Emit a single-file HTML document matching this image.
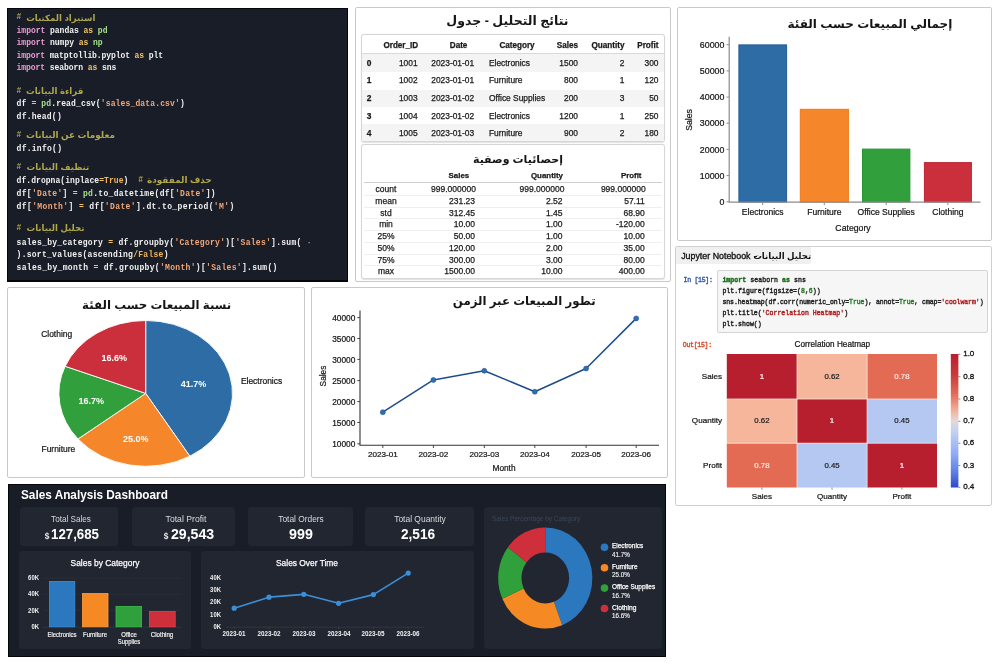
<!DOCTYPE html><html><head><meta charset="utf-8"><title>Sales Analysis</title><style>
*{margin:0;padding:0;box-sizing:border-box}
html,body{width:1000px;height:667px;overflow:hidden;background:#fff}
body{position:relative;font-family:"Liberation Sans",sans-serif;color:#111}
.abs{position:absolute}
.card{position:absolute;background:#fff;border:1px solid #c9c9c9;border-radius:2px}
.t{position:absolute;white-space:pre;line-height:1}
.c{transform:translate(-50%,-50%)}
.r{transform:translate(-100%,-50%)}
.l{transform:translate(0,-50%)}
.mono{font-family:"Liberation Mono",monospace}
svg{display:block}
</style></head><body><div id="w" style="position:absolute;left:0;top:0;width:1000px;height:667px;will-change:transform">
<div class="abs" style="left:7px;top:8px;width:341px;height:273.5px;background:#191d27;border:1px solid #05060a;border-bottom-width:2px"></div>
<div class="t mono" style="left:16.6px;top:17.4px;font-size:8.05px;font-weight:bold;color:#b0a84a;transform:translate(0,-50%) scaleY(1.13)">#</div>
<div class="t l" dir="rtl" style="left:26.2px;top:17.7px;font-size:8.6px;font-weight:bold;color:#b0a84a;font-family:'Liberation Sans','DejaVu Sans',sans-serif">استيراد المكتبات</div>
<div class="t mono" style="left:16.6px;top:31.3px;font-size:8.05px;font-weight:bold;letter-spacing:-0.05px;transform:translate(0,-50%) scaleY(1.13);transform-origin:0 50%"><span style="color:#f09bd6">import</span><span style="color:#f1f1f1"> pandas </span><span style="color:#f2c265">as</span><span style="color:#a4e08c"> pd</span></div>
<div class="t mono" style="left:16.6px;top:43.3px;font-size:8.05px;font-weight:bold;letter-spacing:-0.05px;transform:translate(0,-50%) scaleY(1.13);transform-origin:0 50%"><span style="color:#f09bd6">import</span><span style="color:#f1f1f1"> numpy </span><span style="color:#f2c265">as</span><span style="color:#a4e08c"> np</span></div>
<div class="t mono" style="left:16.6px;top:55.5px;font-size:8.05px;font-weight:bold;letter-spacing:-0.11px;transform:translate(0,-50%) scaleY(1.13);transform-origin:0 50%"><span style="color:#f09bd6">import</span><span style="color:#f1f1f1"> matptollib.pyplot </span><span style="color:#f2c265">as</span><span style="color:#f1f1f1"> plt</span></div>
<div class="t mono" style="left:16.6px;top:67.9px;font-size:8.05px;font-weight:bold;letter-spacing:-0.08px;transform:translate(0,-50%) scaleY(1.13);transform-origin:0 50%"><span style="color:#f09bd6">import</span><span style="color:#f1f1f1"> seaborn </span><span style="color:#f2c265">as</span><span style="color:#f1f1f1"> sns</span></div>
<div class="t mono" style="left:16.6px;top:90.6px;font-size:8.05px;font-weight:bold;color:#b0a84a;transform:translate(0,-50%) scaleY(1.13)">#</div>
<div class="t l" dir="rtl" style="left:26.0px;top:90.9px;font-size:8.6px;font-weight:bold;color:#b0a84a;font-family:'Liberation Sans','DejaVu Sans',sans-serif">قراءة البيانات</div>
<div class="t mono" style="left:16.6px;top:104.3px;font-size:8.05px;font-weight:bold;letter-spacing:0.12px;transform:translate(0,-50%) scaleY(1.13);transform-origin:0 50%"><span style="color:#f1f1f1">df </span><span style="color:#f2c265">=</span><span style="color:#a4e08c"> pd</span><span style="color:#f1f1f1">.read_csv(</span><span style="color:#f2a677">'sales_data.csv'</span><span style="color:#f1f1f1">)</span></div>
<div class="t mono" style="left:16.6px;top:116.7px;font-size:8.05px;font-weight:bold;letter-spacing:0.21px;transform:translate(0,-50%) scaleY(1.13);transform-origin:0 50%"><span style="color:#f1f1f1">df.head()</span></div>
<div class="t mono" style="left:16.6px;top:135.2px;font-size:8.05px;font-weight:bold;color:#b0a84a;transform:translate(0,-50%) scaleY(1.13)">#</div>
<div class="t l" dir="rtl" style="left:26.0px;top:135.4px;font-size:8.9px;font-weight:bold;color:#b0a84a;font-family:'Liberation Sans','DejaVu Sans',sans-serif">معلومات عن البيانات</div>
<div class="t mono" style="left:16.6px;top:148.7px;font-size:8.05px;font-weight:bold;letter-spacing:0.24px;transform:translate(0,-50%) scaleY(1.13);transform-origin:0 50%"><span style="color:#f1f1f1">df.info()</span></div>
<div class="t mono" style="left:16.6px;top:166.8px;font-size:8.05px;font-weight:bold;color:#b0a84a;transform:translate(0,-50%) scaleY(1.13)">#</div>
<div class="t l" dir="rtl" style="left:26.5px;top:167.1px;font-size:8.6px;font-weight:bold;color:#b0a84a;font-family:'Liberation Sans','DejaVu Sans',sans-serif">تنظيف البيانات</div>
<div class="t mono" style="left:16.6px;top:180.7px;font-size:8.05px;font-weight:bold;letter-spacing:0.03px;transform:translate(0,-50%) scaleY(1.13);transform-origin:0 50%"><span style="color:#f1f1f1">df.dropna(inplace</span><span style="color:#f2c265">=</span><span style="color:#f2b45a">True</span><span style="color:#f1f1f1">)</span></div>
<div class="t mono" style="left:138.3px;top:179.8px;font-size:8.05px;font-weight:bold;color:#b0a84a;transform:translate(0,-50%) scaleY(1.13)">#</div>
<div class="t l" dir="rtl" style="left:147.0px;top:180.1px;font-size:8.9px;font-weight:bold;color:#b0a84a;font-family:'Liberation Sans','DejaVu Sans',sans-serif">حذف المفقودة</div>
<div class="t mono" style="left:16.6px;top:193.9px;font-size:8.05px;font-weight:bold;letter-spacing:0.28px;transform:translate(0,-50%) scaleY(1.13);transform-origin:0 50%"><span style="color:#f1f1f1">df[</span><span style="color:#f2a677">'Date'</span><span style="color:#f1f1f1">] </span><span style="color:#f2c265">=</span><span style="color:#a4e08c"> pd</span><span style="color:#f1f1f1">.to_datetime(df[</span><span style="color:#f2a677">'Date'</span><span style="color:#f1f1f1">])</span></div>
<div class="t mono" style="left:16.6px;top:206.9px;font-size:8.05px;font-weight:bold;letter-spacing:0.36px;transform:translate(0,-50%) scaleY(1.13);transform-origin:0 50%"><span style="color:#f1f1f1">df[</span><span style="color:#f2a677">'Month'</span><span style="color:#f1f1f1">] </span><span style="color:#f2c265">=</span><span style="color:#f1f1f1"> df[</span><span style="color:#f2a677">'Date'</span><span style="color:#f1f1f1">].dt.to_period(</span><span style="color:#f2a677">'M'</span><span style="color:#f1f1f1">)</span></div>
<div class="t mono" style="left:16.6px;top:227.7px;font-size:8.05px;font-weight:bold;color:#b0a84a;transform:translate(0,-50%) scaleY(1.13)">#</div>
<div class="t l" dir="rtl" style="left:26.5px;top:228.0px;font-size:8.6px;font-weight:bold;color:#b0a84a;font-family:'Liberation Sans','DejaVu Sans',sans-serif">تحليل البيانات</div>
<div class="t mono" style="left:16.6px;top:242.9px;font-size:8.05px;font-weight:bold;letter-spacing:0.26px;transform:translate(0,-50%) scaleY(1.13);transform-origin:0 50%"><span style="color:#f1f1f1">sales_by_category </span><span style="color:#f2c265">=</span><span style="color:#f1f1f1"> df.groupby(</span><span style="color:#f2a677">'Category'</span><span style="color:#f1f1f1">)[</span><span style="color:#f2a677">'Sales'</span><span style="color:#f1f1f1">].sum( </span><span style="color:#9aa0aa">·</span></div>
<div class="t mono" style="left:16.6px;top:255.2px;font-size:8.05px;font-weight:bold;letter-spacing:0.24px;transform:translate(0,-50%) scaleY(1.13);transform-origin:0 50%"><span style="color:#f1f1f1">).sort_values(ascending</span><span style="color:#f2c265">/</span><span style="color:#f2b45a">False</span><span style="color:#f1f1f1">)</span></div>
<div class="t mono" style="left:16.6px;top:267.8px;font-size:8.05px;font-weight:bold;letter-spacing:0.29px;transform:translate(0,-50%) scaleY(1.13);transform-origin:0 50%"><span style="color:#f1f1f1">sales_by_month </span><span style="color:#f2c265">=</span><span style="color:#f1f1f1"> df.groupby(</span><span style="color:#f2a677">'Month'</span><span style="color:#f1f1f1">)[</span><span style="color:#f2a677">'Sales'</span><span style="color:#f1f1f1">].sum()</span></div>
<div class="card" style="left:355px;top:7px;width:316px;height:275px"></div>
<div class="t c" dir="rtl" style="left:507.4px;top:21.2px;font-size:12.5px;font-weight:bold;color:#151515;font-family:'Liberation Sans','DejaVu Sans',sans-serif">نتائج التحليل - جدول</div>
<div class="card" style="left:361px;top:34px;width:304px;height:108px;border-color:#d6d6d6;border-radius:3px;box-shadow:0 0.5px 1px rgba(0,0,0,.12)"></div>
<div class="abs" style="left:362px;top:53px;width:302px;height:1px;background:#d9d9d9"></div>
<div class="abs" style="left:362px;top:53.5px;width:302px;height:18.2px;background:#f4f4f4"></div>
<div class="abs" style="left:362px;top:89.5px;width:302px;height:17.2px;background:#f4f4f4"></div>
<div class="abs" style="left:362px;top:124.0px;width:302px;height:17.0px;background:#f4f4f4"></div>
<div class="t r" style="left:418.2px;top:45.9px;font-size:8.15px;color:#1a1a1a;font-weight:bold;-webkit-text-stroke:0.25px #1a1a1a;">Order_ID</div>
<div class="t c" style="left:458.6px;top:45.9px;font-size:8.15px;color:#1a1a1a;font-weight:bold;-webkit-text-stroke:0.25px #1a1a1a;">Date</div>
<div class="t c" style="left:517.0px;top:45.9px;font-size:8.15px;color:#1a1a1a;font-weight:bold;-webkit-text-stroke:0.25px #1a1a1a;">Category</div>
<div class="t r" style="left:578.0px;top:45.9px;font-size:8.15px;color:#1a1a1a;font-weight:bold;-webkit-text-stroke:0.25px #1a1a1a;">Sales</div>
<div class="t r" style="left:624.5px;top:45.9px;font-size:8.15px;color:#1a1a1a;font-weight:bold;-webkit-text-stroke:0.25px #1a1a1a;">Quantity</div>
<div class="t r" style="left:658.5px;top:45.9px;font-size:8.15px;color:#1a1a1a;font-weight:bold;-webkit-text-stroke:0.25px #1a1a1a;">Profit</div>
<div class="t l" style="left:366.8px;top:62.7px;font-size:8.40px;color:#1a1a1a;font-weight:bold;-webkit-text-stroke:0.25px #1a1a1a;">0</div>
<div class="t r" style="left:417.6px;top:62.7px;font-size:8.40px;color:#1a1a1a;-webkit-text-stroke:0.25px #1a1a1a;">1001</div>
<div class="t c" style="left:452.7px;top:62.7px;font-size:8.40px;color:#1a1a1a;-webkit-text-stroke:0.25px #1a1a1a;">2023-01-01</div>
<div class="t l" style="left:489.0px;top:62.7px;font-size:8.40px;color:#1a1a1a;-webkit-text-stroke:0.25px #1a1a1a;">Electronics</div>
<div class="t r" style="left:578.0px;top:62.7px;font-size:8.40px;color:#1a1a1a;-webkit-text-stroke:0.25px #1a1a1a;">1500</div>
<div class="t r" style="left:624.5px;top:62.7px;font-size:8.40px;color:#1a1a1a;-webkit-text-stroke:0.25px #1a1a1a;">2</div>
<div class="t r" style="left:658.5px;top:62.7px;font-size:8.40px;color:#1a1a1a;-webkit-text-stroke:0.25px #1a1a1a;">300</div>
<div class="t l" style="left:366.8px;top:80.4px;font-size:8.40px;color:#1a1a1a;font-weight:bold;-webkit-text-stroke:0.25px #1a1a1a;">1</div>
<div class="t r" style="left:417.6px;top:80.4px;font-size:8.40px;color:#1a1a1a;-webkit-text-stroke:0.25px #1a1a1a;">1002</div>
<div class="t c" style="left:452.7px;top:80.4px;font-size:8.40px;color:#1a1a1a;-webkit-text-stroke:0.25px #1a1a1a;">2023-01-01</div>
<div class="t l" style="left:489.0px;top:80.4px;font-size:8.40px;color:#1a1a1a;-webkit-text-stroke:0.25px #1a1a1a;">Furniture</div>
<div class="t r" style="left:578.0px;top:80.4px;font-size:8.40px;color:#1a1a1a;-webkit-text-stroke:0.25px #1a1a1a;">800</div>
<div class="t r" style="left:624.5px;top:80.4px;font-size:8.40px;color:#1a1a1a;-webkit-text-stroke:0.25px #1a1a1a;">1</div>
<div class="t r" style="left:658.5px;top:80.4px;font-size:8.40px;color:#1a1a1a;-webkit-text-stroke:0.25px #1a1a1a;">120</div>
<div class="t l" style="left:366.8px;top:98.2px;font-size:8.40px;color:#1a1a1a;font-weight:bold;-webkit-text-stroke:0.25px #1a1a1a;">2</div>
<div class="t r" style="left:417.6px;top:98.2px;font-size:8.40px;color:#1a1a1a;-webkit-text-stroke:0.25px #1a1a1a;">1003</div>
<div class="t c" style="left:452.7px;top:98.2px;font-size:8.40px;color:#1a1a1a;-webkit-text-stroke:0.25px #1a1a1a;">2023-01-02</div>
<div class="t l" style="left:489.0px;top:98.2px;font-size:8.40px;color:#1a1a1a;-webkit-text-stroke:0.25px #1a1a1a;">Office Supplies</div>
<div class="t r" style="left:578.0px;top:98.2px;font-size:8.40px;color:#1a1a1a;-webkit-text-stroke:0.25px #1a1a1a;">200</div>
<div class="t r" style="left:624.5px;top:98.2px;font-size:8.40px;color:#1a1a1a;-webkit-text-stroke:0.25px #1a1a1a;">3</div>
<div class="t r" style="left:658.5px;top:98.2px;font-size:8.40px;color:#1a1a1a;-webkit-text-stroke:0.25px #1a1a1a;">50</div>
<div class="t l" style="left:366.8px;top:115.8px;font-size:8.40px;color:#1a1a1a;font-weight:bold;-webkit-text-stroke:0.25px #1a1a1a;">3</div>
<div class="t r" style="left:417.6px;top:115.8px;font-size:8.40px;color:#1a1a1a;-webkit-text-stroke:0.25px #1a1a1a;">1004</div>
<div class="t c" style="left:452.7px;top:115.8px;font-size:8.40px;color:#1a1a1a;-webkit-text-stroke:0.25px #1a1a1a;">2023-01-02</div>
<div class="t l" style="left:489.0px;top:115.8px;font-size:8.40px;color:#1a1a1a;-webkit-text-stroke:0.25px #1a1a1a;">Electronics</div>
<div class="t r" style="left:578.0px;top:115.8px;font-size:8.40px;color:#1a1a1a;-webkit-text-stroke:0.25px #1a1a1a;">1200</div>
<div class="t r" style="left:624.5px;top:115.8px;font-size:8.40px;color:#1a1a1a;-webkit-text-stroke:0.25px #1a1a1a;">1</div>
<div class="t r" style="left:658.5px;top:115.8px;font-size:8.40px;color:#1a1a1a;-webkit-text-stroke:0.25px #1a1a1a;">250</div>
<div class="t l" style="left:366.8px;top:133.4px;font-size:8.40px;color:#1a1a1a;font-weight:bold;-webkit-text-stroke:0.25px #1a1a1a;">4</div>
<div class="t r" style="left:417.6px;top:133.4px;font-size:8.40px;color:#1a1a1a;-webkit-text-stroke:0.25px #1a1a1a;">1005</div>
<div class="t c" style="left:452.7px;top:133.4px;font-size:8.40px;color:#1a1a1a;-webkit-text-stroke:0.25px #1a1a1a;">2023-01-03</div>
<div class="t l" style="left:489.0px;top:133.4px;font-size:8.40px;color:#1a1a1a;-webkit-text-stroke:0.25px #1a1a1a;">Furniture</div>
<div class="t r" style="left:578.0px;top:133.4px;font-size:8.40px;color:#1a1a1a;-webkit-text-stroke:0.25px #1a1a1a;">900</div>
<div class="t r" style="left:624.5px;top:133.4px;font-size:8.40px;color:#1a1a1a;-webkit-text-stroke:0.25px #1a1a1a;">2</div>
<div class="t r" style="left:658.5px;top:133.4px;font-size:8.40px;color:#1a1a1a;-webkit-text-stroke:0.25px #1a1a1a;">180</div>
<div class="card" style="left:361px;top:144px;width:304px;height:134.5px;border-color:#d6d6d6;border-radius:3px;box-shadow:0 0.5px 1px rgba(0,0,0,.12)"></div>
<div class="t c" dir="rtl" style="left:518.0px;top:159.2px;font-size:11px;font-weight:bold;color:#151515;font-family:'Liberation Sans','DejaVu Sans',sans-serif">إحصائيات وصفية</div>
<div class="abs" style="left:364px;top:182px;width:298px;height:1px;background:#cfcfcf"></div>
<div class="t r" style="left:469.2px;top:176.2px;font-size:7.90px;color:#1a1a1a;font-weight:bold;-webkit-text-stroke:0.25px #1a1a1a;">Sales</div>
<div class="t r" style="left:563.0px;top:176.2px;font-size:7.90px;color:#1a1a1a;font-weight:bold;-webkit-text-stroke:0.25px #1a1a1a;">Quantity</div>
<div class="t r" style="left:641.5px;top:176.2px;font-size:7.90px;color:#1a1a1a;font-weight:bold;-webkit-text-stroke:0.25px #1a1a1a;">Profit</div>
<div class="abs" style="left:364px;top:194.9px;width:298px;height:1px;background:#efefef"></div>
<div class="abs" style="left:364px;top:206.6px;width:298px;height:1px;background:#efefef"></div>
<div class="abs" style="left:364px;top:218.3px;width:298px;height:1px;background:#efefef"></div>
<div class="abs" style="left:364px;top:230.0px;width:298px;height:1px;background:#efefef"></div>
<div class="abs" style="left:364px;top:241.8px;width:298px;height:1px;background:#efefef"></div>
<div class="abs" style="left:364px;top:253.6px;width:298px;height:1px;background:#efefef"></div>
<div class="abs" style="left:364px;top:265.3px;width:298px;height:1px;background:#efefef"></div>
<div class="t c" style="left:386.0px;top:189.2px;font-size:8.50px;color:#1a1a1a;-webkit-text-stroke:0.25px #1a1a1a;">count</div>
<div class="t r" style="left:476.0px;top:189.2px;font-size:8.50px;color:#1a1a1a;-webkit-text-stroke:0.25px #1a1a1a;">999.000000</div>
<div class="t r" style="left:564.5px;top:189.2px;font-size:8.50px;color:#1a1a1a;-webkit-text-stroke:0.25px #1a1a1a;">999.000000</div>
<div class="t r" style="left:645.8px;top:189.2px;font-size:8.50px;color:#1a1a1a;-webkit-text-stroke:0.25px #1a1a1a;">999.000000</div>
<div class="t c" style="left:386.0px;top:200.8px;font-size:8.50px;color:#1a1a1a;-webkit-text-stroke:0.25px #1a1a1a;">mean</div>
<div class="t r" style="left:475.0px;top:200.8px;font-size:8.50px;color:#1a1a1a;-webkit-text-stroke:0.25px #1a1a1a;">231.23</div>
<div class="t r" style="left:562.5px;top:200.8px;font-size:8.50px;color:#1a1a1a;-webkit-text-stroke:0.25px #1a1a1a;">2.52</div>
<div class="t r" style="left:644.8px;top:200.8px;font-size:8.50px;color:#1a1a1a;-webkit-text-stroke:0.25px #1a1a1a;">57.11</div>
<div class="t c" style="left:386.0px;top:212.5px;font-size:8.50px;color:#1a1a1a;-webkit-text-stroke:0.25px #1a1a1a;">std</div>
<div class="t r" style="left:475.0px;top:212.5px;font-size:8.50px;color:#1a1a1a;-webkit-text-stroke:0.25px #1a1a1a;">312.45</div>
<div class="t r" style="left:562.5px;top:212.5px;font-size:8.50px;color:#1a1a1a;-webkit-text-stroke:0.25px #1a1a1a;">1.45</div>
<div class="t r" style="left:644.8px;top:212.5px;font-size:8.50px;color:#1a1a1a;-webkit-text-stroke:0.25px #1a1a1a;">68.90</div>
<div class="t c" style="left:386.0px;top:224.1px;font-size:8.50px;color:#1a1a1a;-webkit-text-stroke:0.25px #1a1a1a;">min</div>
<div class="t r" style="left:475.0px;top:224.1px;font-size:8.50px;color:#1a1a1a;-webkit-text-stroke:0.25px #1a1a1a;">10.00</div>
<div class="t r" style="left:562.5px;top:224.1px;font-size:8.50px;color:#1a1a1a;-webkit-text-stroke:0.25px #1a1a1a;">1.00</div>
<div class="t r" style="left:644.8px;top:224.1px;font-size:8.50px;color:#1a1a1a;-webkit-text-stroke:0.25px #1a1a1a;">-120.00</div>
<div class="t c" style="left:386.0px;top:235.9px;font-size:8.50px;color:#1a1a1a;-webkit-text-stroke:0.25px #1a1a1a;">25%</div>
<div class="t r" style="left:475.0px;top:235.9px;font-size:8.50px;color:#1a1a1a;-webkit-text-stroke:0.25px #1a1a1a;">50.00</div>
<div class="t r" style="left:562.5px;top:235.9px;font-size:8.50px;color:#1a1a1a;-webkit-text-stroke:0.25px #1a1a1a;">1.00</div>
<div class="t r" style="left:644.8px;top:235.9px;font-size:8.50px;color:#1a1a1a;-webkit-text-stroke:0.25px #1a1a1a;">10.00</div>
<div class="t c" style="left:386.0px;top:247.7px;font-size:8.50px;color:#1a1a1a;-webkit-text-stroke:0.25px #1a1a1a;">50%</div>
<div class="t r" style="left:475.0px;top:247.7px;font-size:8.50px;color:#1a1a1a;-webkit-text-stroke:0.25px #1a1a1a;">120.00</div>
<div class="t r" style="left:562.5px;top:247.7px;font-size:8.50px;color:#1a1a1a;-webkit-text-stroke:0.25px #1a1a1a;">2.00</div>
<div class="t r" style="left:644.8px;top:247.7px;font-size:8.50px;color:#1a1a1a;-webkit-text-stroke:0.25px #1a1a1a;">35.00</div>
<div class="t c" style="left:386.0px;top:259.6px;font-size:8.50px;color:#1a1a1a;-webkit-text-stroke:0.25px #1a1a1a;">75%</div>
<div class="t r" style="left:475.0px;top:259.6px;font-size:8.50px;color:#1a1a1a;-webkit-text-stroke:0.25px #1a1a1a;">300.00</div>
<div class="t r" style="left:562.5px;top:259.6px;font-size:8.50px;color:#1a1a1a;-webkit-text-stroke:0.25px #1a1a1a;">3.00</div>
<div class="t r" style="left:644.8px;top:259.6px;font-size:8.50px;color:#1a1a1a;-webkit-text-stroke:0.25px #1a1a1a;">80.00</div>
<div class="t c" style="left:386.0px;top:271.1px;font-size:8.50px;color:#1a1a1a;-webkit-text-stroke:0.25px #1a1a1a;">max</div>
<div class="t r" style="left:475.0px;top:271.1px;font-size:8.50px;color:#1a1a1a;-webkit-text-stroke:0.25px #1a1a1a;">1500.00</div>
<div class="t r" style="left:562.5px;top:271.1px;font-size:8.50px;color:#1a1a1a;-webkit-text-stroke:0.25px #1a1a1a;">10.00</div>
<div class="t r" style="left:644.8px;top:271.1px;font-size:8.50px;color:#1a1a1a;-webkit-text-stroke:0.25px #1a1a1a;">400.00</div>
<div class="card" style="left:677px;top:7px;width:315px;height:234px"></div>
<div class="t c" dir="rtl" style="left:869.9px;top:24.0px;font-size:12px;font-weight:bold;color:#151515;font-family:'Liberation Sans','DejaVu Sans',sans-serif">إجمالي المبيعات حسب الفئة</div>
<svg class="abs" style="left:0;top:0" width="1000" height="260" viewBox="0 0 1000 260"><rect x="738.9" y="44.9" width="47.7" height="157.1" fill="#2d6ca5" stroke="#235c94" stroke-width="1"/><rect x="800.3" y="109.3" width="48.1" height="92.7" fill="#f5862a" stroke="#ee7a1c" stroke-width="1"/><rect x="862.5" y="149.1" width="47.4" height="52.9" fill="#31a03c" stroke="#2a9334" stroke-width="1"/><rect x="924.4" y="162.6" width="47.0" height="39.4" fill="#cb2f3b" stroke="#bd2733" stroke-width="1"/><path d="M729.2 36.8V202.6M728.6 202.2H980.5" stroke="#8c8c8c" stroke-width="1.2" fill="none"/><path d="M726.5 44.7H729" stroke="#8c8c8c" stroke-width="1"/><path d="M726.5 70.9H729" stroke="#8c8c8c" stroke-width="1"/><path d="M726.5 97.1H729" stroke="#8c8c8c" stroke-width="1"/><path d="M726.5 123.2H729" stroke="#8c8c8c" stroke-width="1"/><path d="M726.5 149.4H729" stroke="#8c8c8c" stroke-width="1"/><path d="M726.5 175.6H729" stroke="#8c8c8c" stroke-width="1"/><path d="M726.5 201.8H729" stroke="#8c8c8c" stroke-width="1"/><path d="M762.7 202.5V205" stroke="#8c8c8c" stroke-width="1"/><path d="M824.3 202.5V205" stroke="#8c8c8c" stroke-width="1"/><path d="M886.2 202.5V205" stroke="#8c8c8c" stroke-width="1"/><path d="M947.9 202.5V205" stroke="#8c8c8c" stroke-width="1"/></svg>
<div class="t r" style="left:724.4px;top:44.9px;font-size:8.85px;color:#151515;-webkit-text-stroke:0.22px #151515;">60000</div>
<div class="t r" style="left:724.4px;top:71.1px;font-size:8.85px;color:#151515;-webkit-text-stroke:0.22px #151515;">50000</div>
<div class="t r" style="left:724.4px;top:97.3px;font-size:8.85px;color:#151515;-webkit-text-stroke:0.22px #151515;">40000</div>
<div class="t r" style="left:724.4px;top:123.4px;font-size:8.85px;color:#151515;-webkit-text-stroke:0.22px #151515;">30000</div>
<div class="t r" style="left:724.4px;top:149.6px;font-size:8.85px;color:#151515;-webkit-text-stroke:0.22px #151515;">20000</div>
<div class="t r" style="left:724.4px;top:175.8px;font-size:8.85px;color:#151515;-webkit-text-stroke:0.22px #151515;">10000</div>
<div class="t r" style="left:724.4px;top:202.0px;font-size:8.85px;color:#151515;-webkit-text-stroke:0.22px #151515;">0</div>
<div class="t c" style="left:762.7px;top:212.3px;font-size:8.55px;color:#151515;-webkit-text-stroke:0.22px #151515;">Electronics</div>
<div class="t c" style="left:824.3px;top:212.3px;font-size:8.55px;color:#151515;-webkit-text-stroke:0.22px #151515;">Furniture</div>
<div class="t c" style="left:886.2px;top:212.3px;font-size:8.55px;color:#151515;-webkit-text-stroke:0.22px #151515;">Office Supplies</div>
<div class="t c" style="left:947.9px;top:212.3px;font-size:8.55px;color:#151515;-webkit-text-stroke:0.22px #151515;">Clothing</div>
<div class="t c" style="left:853.0px;top:228.0px;font-size:8.70px;color:#151515;-webkit-text-stroke:0.22px #151515;">Category</div>
<div class="t" style="left:688.7px;top:120px;font-size:8.7px;color:#151515;-webkit-text-stroke:0.22px #151515;transform:translate(-50%,-50%) rotate(-90deg)">Sales</div>
<div class="card" style="left:675px;top:246px;width:317px;height:260px;border-color:#cfcfcf"></div>
<div class="abs" style="left:676px;top:247px;width:135px;height:17.2px;background:#f0f0f0;border-radius:1px 2px 2px 0"></div>
<div class="t l" style="left:681.2px;top:256.3px;font-size:8.85px;color:#151515;-webkit-text-stroke:0.35px #151515;">Jupyter Notebook</div>
<div class="abs" style="left:753.5px;top:256.1px;width:3.6px;height:1.1px;background:#151515"></div>
<div class="t c" dir="rtl" style="left:782.2px;top:256.3px;font-size:8.6px;font-weight:bold;color:#151515;font-family:'Liberation Sans','DejaVu Sans',sans-serif">تحليل البيانات</div>
<div class="abs" style="left:717px;top:270.4px;width:270.5px;height:62.2px;background:#f6f6f6;border:1px solid #d4d4d4;border-radius:2px"></div>
<div class="t mono" style="left:683.6px;top:280.8px;font-size:6.55px;font-weight:normal;color:#3b5aa6;letter-spacing:-0.30px;transform:translate(0,-50%) scaleY(1.14);transform-origin:0 50%;-webkit-text-stroke:0.38px">In [15]:</div>
<div class="t mono" style="left:722.4px;top:280.8px;font-size:6.55px;font-weight:normal;color:#222;letter-spacing:0.05px;transform:translate(0,-50%) scaleY(1.14);transform-origin:0 50%;-webkit-text-stroke:0.38px"><span style="color:#186c18;font-weight:bold;">import</span> seaborn <span style="color:#186c18;font-weight:bold;">as</span> sns</div>
<div class="t mono" style="left:722.4px;top:291.8px;font-size:6.55px;font-weight:normal;color:#222;letter-spacing:0.00px;transform:translate(0,-50%) scaleY(1.14);transform-origin:0 50%;-webkit-text-stroke:0.38px">plt.figure(figsize=(<span style="color:#1f7a1f;">8</span>,<span style="color:#1f7a1f;">6</span>))</div>
<div class="t mono" style="left:722.4px;top:302.8px;font-size:6.55px;font-weight:normal;color:#222;letter-spacing:-0.09px;transform:translate(0,-50%) scaleY(1.14);transform-origin:0 50%;-webkit-text-stroke:0.38px">sns.heatmap(df.corr(numeric_only=<span style="color:#1f7a1f;">True</span>), annot=<span style="color:#1f7a1f;">True</span>, cmap=<span style="color:#ae1d1d;">'coolwarm'</span>)</div>
<div class="t mono" style="left:722.4px;top:313.8px;font-size:6.55px;font-weight:normal;color:#222;letter-spacing:0.00px;transform:translate(0,-50%) scaleY(1.14);transform-origin:0 50%;-webkit-text-stroke:0.38px">plt.title(<span style="color:#ae1d1d;">'Correlation Heatmap'</span>)</div>
<div class="t mono" style="left:722.4px;top:324.8px;font-size:6.55px;font-weight:normal;color:#222;letter-spacing:0.00px;transform:translate(0,-50%) scaleY(1.14);transform-origin:0 50%;-webkit-text-stroke:0.38px">plt.show()</div>
<div class="t mono" style="left:682.8px;top:345.8px;font-size:6.55px;font-weight:normal;color:#d8512f;letter-spacing:-0.30px;transform:translate(0,-50%) scaleY(1.14);transform-origin:0 50%;-webkit-text-stroke:0.38px">Out[15]:</div>
<div class="t c" style="left:832.4px;top:344.8px;font-size:8.20px;color:#151515;-webkit-text-stroke:0.22px #151515;">Correlation Heatmap</div>
<svg class="abs" style="left:0;top:340px" width="1000" height="160" viewBox="0 340 1000 160"><defs><linearGradient id="cw" x1="0" y1="0" x2="0" y2="1"><stop offset="0" stop-color="#b71f2e"/><stop offset="0.15" stop-color="#c9393a"/><stop offset="0.3" stop-color="#e36c58"/><stop offset="0.42" stop-color="#f3ae98"/><stop offset="0.5" stop-color="#e3d9da"/><stop offset="0.58" stop-color="#c3d1f1"/><stop offset="0.75" stop-color="#8eabf5"/><stop offset="0.9" stop-color="#567ae2"/><stop offset="1" stop-color="#2c48ca"/></linearGradient></defs><rect x="726.8" y="354.0" width="70.2" height="45.0" fill="#b71f2e"/><rect x="797.0" y="354.0" width="70.1" height="45.0" fill="#f5b69b"/><rect x="867.1" y="354.0" width="69.9" height="45.0" fill="#e36b54"/><rect x="726.8" y="399.0" width="70.2" height="44.2" fill="#f5b69b"/><rect x="797.0" y="399.0" width="70.1" height="44.2" fill="#b71f2e"/><rect x="867.1" y="399.0" width="69.9" height="44.2" fill="#b4c8f1"/><rect x="726.8" y="443.2" width="70.2" height="44.3" fill="#e36b54"/><rect x="797.0" y="443.2" width="70.1" height="44.3" fill="#b4c8f1"/><rect x="867.1" y="443.2" width="69.9" height="44.3" fill="#b71f2e"/><path d="M797 354V487.5M867.1 354V487.5M726.8 399H937M726.8 443.2H937" stroke="#f7e3da" stroke-width="0.8" fill="none"/><rect x="950.8" y="354" width="7.6" height="133.5" fill="url(#cw)"/><path d="M958.4 354.3H960.4" stroke="#555" stroke-width="0.7"/><path d="M958.4 376.7H960.4" stroke="#555" stroke-width="0.7"/><path d="M958.4 399.0H960.4" stroke="#555" stroke-width="0.7"/><path d="M958.4 421.3H960.4" stroke="#555" stroke-width="0.7"/><path d="M958.4 443.2H960.4" stroke="#555" stroke-width="0.7"/><path d="M958.4 465.5H960.4" stroke="#555" stroke-width="0.7"/><path d="M958.4 487.3H960.4" stroke="#555" stroke-width="0.7"/><path d="M761.9 487.5V489.5" stroke="#555" stroke-width="0.7"/><path d="M832.0 487.5V489.5" stroke="#555" stroke-width="0.7"/><path d="M901.9 487.5V489.5" stroke="#555" stroke-width="0.7"/></svg>
<div class="t c" style="left:761.9px;top:376.7px;font-size:7.80px;color:#fff;-webkit-text-stroke:0.2px;">1</div>
<div class="t c" style="left:832.0px;top:376.7px;font-size:7.80px;color:#1a1a1a;-webkit-text-stroke:0.2px;">0.62</div>
<div class="t c" style="left:901.9px;top:376.7px;font-size:7.80px;color:#fbe9e2;-webkit-text-stroke:0.2px;">0.78</div>
<div class="t c" style="left:761.9px;top:421.3px;font-size:7.80px;color:#1a1a1a;-webkit-text-stroke:0.2px;">0.62</div>
<div class="t c" style="left:832.0px;top:421.3px;font-size:7.80px;color:#fff;-webkit-text-stroke:0.2px;">1</div>
<div class="t c" style="left:901.9px;top:421.3px;font-size:7.80px;color:#1a1a1a;-webkit-text-stroke:0.2px;">0.45</div>
<div class="t c" style="left:761.9px;top:465.5px;font-size:7.80px;color:#fbe9e2;-webkit-text-stroke:0.2px;">0.78</div>
<div class="t c" style="left:832.0px;top:465.5px;font-size:7.80px;color:#1a1a1a;-webkit-text-stroke:0.2px;">0.45</div>
<div class="t c" style="left:901.9px;top:465.5px;font-size:7.80px;color:#fff;-webkit-text-stroke:0.2px;">1</div>
<div class="t r" style="left:722.0px;top:376.7px;font-size:8.10px;color:#151515;-webkit-text-stroke:0.22px #151515;">Sales</div>
<div class="t r" style="left:722.0px;top:421.3px;font-size:8.10px;color:#151515;-webkit-text-stroke:0.22px #151515;">Quantity</div>
<div class="t r" style="left:722.0px;top:465.5px;font-size:8.10px;color:#151515;-webkit-text-stroke:0.22px #151515;">Profit</div>
<div class="t c" style="left:761.9px;top:496.8px;font-size:8.10px;color:#151515;-webkit-text-stroke:0.22px #151515;">Sales</div>
<div class="t c" style="left:832.0px;top:496.8px;font-size:8.10px;color:#151515;-webkit-text-stroke:0.22px #151515;">Quantity</div>
<div class="t c" style="left:901.9px;top:496.8px;font-size:8.10px;color:#151515;-webkit-text-stroke:0.22px #151515;">Profit</div>
<div class="t l" style="left:963.2px;top:354.3px;font-size:8.00px;color:#151515;-webkit-text-stroke:0.32px #151515;">1.0</div>
<div class="t l" style="left:963.2px;top:376.7px;font-size:8.00px;color:#151515;-webkit-text-stroke:0.32px #151515;">0.8</div>
<div class="t l" style="left:963.2px;top:399.0px;font-size:8.00px;color:#151515;-webkit-text-stroke:0.32px #151515;">0.8</div>
<div class="t l" style="left:963.2px;top:421.3px;font-size:8.00px;color:#151515;-webkit-text-stroke:0.32px #151515;">0.7</div>
<div class="t l" style="left:963.2px;top:443.2px;font-size:8.00px;color:#151515;-webkit-text-stroke:0.32px #151515;">0.6</div>
<div class="t l" style="left:963.2px;top:465.5px;font-size:8.00px;color:#151515;-webkit-text-stroke:0.32px #151515;">0.3</div>
<div class="t l" style="left:963.2px;top:487.3px;font-size:8.00px;color:#151515;-webkit-text-stroke:0.32px #151515;">0.4</div>
<div class="card" style="left:7px;top:287px;width:298px;height:190.5px"></div>
<div class="t c" dir="rtl" style="left:156.6px;top:306.4px;font-size:11.8px;font-weight:bold;color:#151515;font-family:'Liberation Sans','DejaVu Sans',sans-serif">نسبة المبيعات حسب الفئة</div>
<svg class="abs" style="left:0;top:300px" width="320" height="180" viewBox="0 300 320 180"><path d="M145.70 393.40 L145.70 320.50 A86.8 72.9 0 0 1 189.82 456.18 Z" fill="#2d6ca5" stroke="#fff" stroke-width="0.9" stroke-linejoin="round"/><path d="M145.70 393.40 L189.82 456.18 A86.8 72.9 0 0 1 77.97 438.99 Z" fill="#f5862a" stroke="#fff" stroke-width="0.9" stroke-linejoin="round"/><path d="M145.70 393.40 L77.97 438.99 A86.8 72.9 0 0 1 65.13 366.28 Z" fill="#31a03c" stroke="#fff" stroke-width="0.9" stroke-linejoin="round"/><path d="M145.70 393.40 L65.13 366.28 A86.8 72.9 0 0 1 145.70 320.50 Z" fill="#cb2f3b" stroke="#fff" stroke-width="0.9" stroke-linejoin="round"/></svg>
<div class="t c" style="left:114.2px;top:357.6px;font-size:9.00px;color:#fff;font-weight:bold;">16.6%</div>
<div class="t c" style="left:193.4px;top:383.8px;font-size:9.00px;color:#fff;font-weight:bold;">41.7%</div>
<div class="t c" style="left:91.2px;top:400.9px;font-size:9.00px;color:#fff;font-weight:bold;">16.7%</div>
<div class="t c" style="left:135.8px;top:438.8px;font-size:9.00px;color:#fff;font-weight:bold;">25.0%</div>
<div class="t l" style="left:41.2px;top:333.6px;font-size:8.45px;color:#151515;-webkit-text-stroke:0.22px #151515;">Clothing</div>
<div class="t l" style="left:41.5px;top:449.2px;font-size:8.45px;color:#151515;-webkit-text-stroke:0.22px #151515;">Furniture</div>
<div class="t l" style="left:240.9px;top:380.6px;font-size:8.45px;color:#151515;-webkit-text-stroke:0.22px #151515;">Electronics</div>
<div class="card" style="left:311px;top:287px;width:357px;height:190.5px"></div>
<div class="t c" dir="rtl" style="left:524.2px;top:302.2px;font-size:11.8px;font-weight:bold;color:#151515;font-family:'Liberation Sans','DejaVu Sans',sans-serif">تطور المبيعات عبر الزمن</div>
<svg class="abs" style="left:300px;top:300px" width="380" height="180" viewBox="300 300 380 180"><path d="M360 310.4V445.6M359.4 445.3H659" stroke="#333" stroke-width="1.1" fill="none"/><path d="M357.3 317.6H360" stroke="#333" stroke-width="0.9"/><path d="M357.3 338.5H360" stroke="#333" stroke-width="0.9"/><path d="M357.3 359.4H360" stroke="#333" stroke-width="0.9"/><path d="M357.3 380.6H360" stroke="#333" stroke-width="0.9"/><path d="M357.3 401.6H360" stroke="#333" stroke-width="0.9"/><path d="M357.3 422.5H360" stroke="#333" stroke-width="0.9"/><path d="M357.3 443.8H360" stroke="#333" stroke-width="0.9"/><path d="M382.8 445.3V448" stroke="#333" stroke-width="0.9"/><path d="M433.4 445.3V448" stroke="#333" stroke-width="0.9"/><path d="M484.3 445.3V448" stroke="#333" stroke-width="0.9"/><path d="M534.8 445.3V448" stroke="#333" stroke-width="0.9"/><path d="M586.1 445.3V448" stroke="#333" stroke-width="0.9"/><path d="M636.2 445.3V448" stroke="#333" stroke-width="0.9"/><polyline points="382.8,412.2 433.4,379.9 484.3,370.8 534.8,391.7 586.1,368.5 636.2,318.4" fill="none" stroke="#1d4c8d" stroke-width="1.5" stroke-linejoin="round"/><circle cx="382.8" cy="412.2" r="2.5" fill="#2d6fb3" stroke="#1d4c8d" stroke-width="0.5"/><circle cx="433.4" cy="379.9" r="2.5" fill="#2d6fb3" stroke="#1d4c8d" stroke-width="0.5"/><circle cx="484.3" cy="370.8" r="2.5" fill="#2d6fb3" stroke="#1d4c8d" stroke-width="0.5"/><circle cx="534.8" cy="391.7" r="2.5" fill="#2d6fb3" stroke="#1d4c8d" stroke-width="0.5"/><circle cx="586.1" cy="368.5" r="2.5" fill="#2d6fb3" stroke="#1d4c8d" stroke-width="0.5"/><circle cx="636.2" cy="318.4" r="2.5" fill="#2d6fb3" stroke="#1d4c8d" stroke-width="0.5"/></svg>
<div class="t r" style="left:355.3px;top:317.8px;font-size:8.30px;color:#151515;-webkit-text-stroke:0.22px #151515;">40000</div>
<div class="t r" style="left:355.3px;top:338.7px;font-size:8.30px;color:#151515;-webkit-text-stroke:0.22px #151515;">35000</div>
<div class="t r" style="left:355.3px;top:359.6px;font-size:8.30px;color:#151515;-webkit-text-stroke:0.22px #151515;">30000</div>
<div class="t r" style="left:355.3px;top:380.8px;font-size:8.30px;color:#151515;-webkit-text-stroke:0.22px #151515;">25000</div>
<div class="t r" style="left:355.3px;top:401.8px;font-size:8.30px;color:#151515;-webkit-text-stroke:0.22px #151515;">20000</div>
<div class="t r" style="left:355.3px;top:422.7px;font-size:8.30px;color:#151515;-webkit-text-stroke:0.22px #151515;">15000</div>
<div class="t r" style="left:355.3px;top:444.0px;font-size:8.30px;color:#151515;-webkit-text-stroke:0.22px #151515;">10000</div>
<div class="t c" style="left:382.8px;top:454.6px;font-size:8.10px;color:#151515;-webkit-text-stroke:0.22px #151515;">2023-01</div>
<div class="t c" style="left:433.4px;top:454.6px;font-size:8.10px;color:#151515;-webkit-text-stroke:0.22px #151515;">2023-02</div>
<div class="t c" style="left:484.3px;top:454.6px;font-size:8.10px;color:#151515;-webkit-text-stroke:0.22px #151515;">2023-03</div>
<div class="t c" style="left:534.8px;top:454.6px;font-size:8.10px;color:#151515;-webkit-text-stroke:0.22px #151515;">2023-04</div>
<div class="t c" style="left:586.1px;top:454.6px;font-size:8.10px;color:#151515;-webkit-text-stroke:0.22px #151515;">2023-05</div>
<div class="t c" style="left:636.2px;top:454.6px;font-size:8.10px;color:#151515;-webkit-text-stroke:0.22px #151515;">2023-06</div>
<div class="t c" style="left:504.0px;top:467.8px;font-size:8.30px;color:#151515;-webkit-text-stroke:0.22px #151515;">Month</div>
<div class="t" style="left:322.8px;top:376px;font-size:8.3px;color:#151515;-webkit-text-stroke:0.22px #151515;transform:translate(-50%,-50%) rotate(-90deg)">Sales</div>
<div class="abs" style="left:8px;top:483.5px;width:658.3px;height:173px;background:#191d27;border:1px solid #05060a;border-top-width:1.5px"></div>
<div class="t" style="left:21.2px;top:495.4px;font-size:12.90px;color:#fff;font-weight:bold;transform:translate(0,-50%) scaleX(0.914);transform-origin:0 50%;">Sales Analysis Dashboard</div>
<div class="abs" style="left:19.8px;top:507.1px;width:98.7px;height:38.9px;background:#222631;border-radius:3.5px"></div>
<div class="abs" style="left:131.7px;top:507.1px;width:103.2px;height:38.9px;background:#222631;border-radius:3.5px"></div>
<div class="abs" style="left:248.4px;top:507.1px;width:104.4px;height:38.9px;background:#222631;border-radius:3.5px"></div>
<div class="abs" style="left:365.3px;top:507.1px;width:108.7px;height:38.9px;background:#222631;border-radius:3.5px"></div>
<div class="abs" style="left:19.2px;top:551.2px;width:171.8px;height:97.4px;background:#222631;border-radius:3.5px"></div>
<div class="abs" style="left:201.4px;top:551.2px;width:272.6px;height:97.4px;background:#222631;border-radius:3.5px"></div>
<div class="abs" style="left:484.0px;top:507.1px;width:178.3px;height:141.7px;background:#222631;border-radius:4.0px"></div>
<div class="t" style="left:70.5px;top:518.5px;font-size:8.40px;color:#d9dadd;transform:translate(-50%,-50%) scaleX(0.974);transform-origin:50% 50%;">Total Sales</div>
<div class="t" style="left:186.2px;top:518.5px;font-size:8.40px;color:#d9dadd;transform:translate(-50%,-50%) scaleX(1.033);transform-origin:50% 50%;">Total Profit</div>
<div class="t" style="left:301.2px;top:518.5px;font-size:8.40px;color:#d9dadd;transform:translate(-50%,-50%) scaleX(0.997);transform-origin:50% 50%;">Total Orders</div>
<div class="t" style="left:420.0px;top:518.5px;font-size:8.40px;color:#d9dadd;transform:translate(-50%,-50%) scaleX(1.009);transform-origin:50% 50%;">Total Quantity</div>
<div class="t" style="left:51.1px;top:534.1px;font-size:14.20px;color:#fff;font-weight:bold;transform:translate(0,-50%) scaleX(0.935);transform-origin:0 50%;">127,685</div>
<div class="t" style="left:47.0px;top:535.6px;font-size:8.60px;color:#e8e8e8;font-weight:bold;transform:translate(-50%,-50%) scaleX(0.962);transform-origin:50% 50%;">$</div>
<div class="t" style="left:171.1px;top:534.1px;font-size:14.20px;color:#fff;font-weight:bold;transform:translate(0,-50%) scaleX(0.995);transform-origin:0 50%;">29,543</div>
<div class="t" style="left:166.2px;top:535.6px;font-size:8.60px;color:#e8e8e8;font-weight:bold;transform:translate(-50%,-50%) scaleX(0.962);transform-origin:50% 50%;">$</div>
<div class="t" style="left:300.5px;top:534.1px;font-size:14.20px;color:#fff;font-weight:bold;transform:translate(-50%,-50%) scaleX(1.005);transform-origin:50% 50%;">999</div>
<div class="t" style="left:417.6px;top:534.1px;font-size:14.20px;color:#fff;font-weight:bold;transform:translate(-50%,-50%) scaleX(0.960);transform-origin:50% 50%;">2,516</div>
<div class="t" style="left:105.4px;top:563.7px;font-size:9.20px;color:#fff;transform:translate(-50%,-50%) scaleX(0.918);transform-origin:50% 50%;-webkit-text-stroke:0.25px #fff;">Sales by Category</div>
<svg class="abs" style="left:0;top:500px" width="680" height="160" viewBox="0 500 680 160"><path d="M43 578.0H181" stroke="#2b303c" stroke-width="0.7"/><path d="M43 594.4H181" stroke="#2b303c" stroke-width="0.7"/><path d="M43 610.6H181" stroke="#2b303c" stroke-width="0.7"/><path d="M43 627.2H181" stroke="#343a47" stroke-width="0.8"/><rect x="49.4" y="581.4" width="25.4" height="45.4" fill="#2c78bf" stroke="#3a8fdc" stroke-width="0.8"/><rect x="82.4" y="593.4" width="25.6" height="33.4" fill="#f58a25" stroke="#ff9c3a" stroke-width="0.8"/><rect x="116.0" y="606.4" width="25.6" height="20.4" fill="#2fa03b" stroke="#3dbb4a" stroke-width="0.8"/><rect x="149.4" y="611.4" width="25.8" height="15.4" fill="#cf2f3a" stroke="#ea3f48" stroke-width="0.8"/><path d="M226 627.2H424" stroke="#343a47" stroke-width="0.8"/><path d="M234.2 627V629.2" stroke="#3a4150" stroke-width="0.8"/><path d="M269.0 627V629.2" stroke="#3a4150" stroke-width="0.8"/><path d="M303.8 627V629.2" stroke="#3a4150" stroke-width="0.8"/><path d="M338.6 627V629.2" stroke="#3a4150" stroke-width="0.8"/><path d="M373.4 627V629.2" stroke="#3a4150" stroke-width="0.8"/><path d="M408.2 627V629.2" stroke="#3a4150" stroke-width="0.8"/><polyline points="234.2,608.2 269.0,597.2 303.8,594.3 338.6,603.3 373.4,594.6 408.2,573.1" fill="none" stroke="#3b8fd9" stroke-width="1.7" stroke-linejoin="round"/><circle cx="234.2" cy="608.2" r="2.6" fill="#3b8fd9"/><circle cx="269.0" cy="597.2" r="2.6" fill="#3b8fd9"/><circle cx="303.8" cy="594.3" r="2.6" fill="#3b8fd9"/><circle cx="338.6" cy="603.3" r="2.6" fill="#3b8fd9"/><circle cx="373.4" cy="594.6" r="2.6" fill="#3b8fd9"/><circle cx="408.2" cy="573.1" r="2.6" fill="#3b8fd9"/><path d="M545.30 527.40 A47.1 50.6 0 0 1 562.22 625.22 L553.85 601.80 A23.8 25.5 0 0 0 545.30 552.50 Z" fill="#2c78bf"/><path d="M562.22 625.22 A47.1 50.6 0 0 1 502.33 598.72 L523.59 588.44 A23.8 25.5 0 0 0 553.85 601.80 Z" fill="#f58a25"/><path d="M502.33 598.72 A47.1 50.6 0 0 1 507.96 547.16 L526.43 562.46 A23.8 25.5 0 0 0 523.59 588.44 Z" fill="#2fa03b"/><path d="M507.96 547.16 A47.1 50.6 0 0 1 545.30 527.40 L545.30 552.50 A23.8 25.5 0 0 0 526.43 562.46 Z" fill="#cf2f3a"/><circle cx="604.5" cy="547.3" r="3.8" fill="#2c78bf"/><circle cx="604.5" cy="567.7" r="3.8" fill="#f58a25"/><circle cx="604.5" cy="588.1" r="3.8" fill="#2fa03b"/><circle cx="604.5" cy="608.5" r="3.8" fill="#cf2f3a"/></svg>
<div class="t" style="left:39.2px;top:578.0px;font-size:6.60px;color:#f0f0f0;font-weight:bold;transform:translate(-100%,-50%) scaleX(0.900);transform-origin:100% 50%;">60K</div>
<div class="t" style="left:39.2px;top:594.4px;font-size:6.60px;color:#f0f0f0;font-weight:bold;transform:translate(-100%,-50%) scaleX(0.900);transform-origin:100% 50%;">40K</div>
<div class="t" style="left:39.2px;top:610.6px;font-size:6.60px;color:#f0f0f0;font-weight:bold;transform:translate(-100%,-50%) scaleX(0.900);transform-origin:100% 50%;">20K</div>
<div class="t" style="left:39.2px;top:627.0px;font-size:6.60px;color:#f0f0f0;font-weight:bold;transform:translate(-100%,-50%) scaleX(0.900);transform-origin:100% 50%;">0K</div>
<div class="t" style="left:62.0px;top:634.7px;font-size:6.90px;color:#f2f2f2;transform:translate(-50%,-50%) scaleX(0.859);transform-origin:50% 50%;-webkit-text-stroke:0.2px #f2f2f2;">Electronics</div>
<div class="t" style="left:95.4px;top:634.7px;font-size:6.90px;color:#f2f2f2;transform:translate(-50%,-50%) scaleX(0.869);transform-origin:50% 50%;-webkit-text-stroke:0.2px #f2f2f2;">Furniture</div>
<div class="t" style="left:128.6px;top:634.7px;font-size:6.90px;color:#f2f2f2;transform:translate(-50%,-50%) scaleX(0.866);transform-origin:50% 50%;-webkit-text-stroke:0.2px #f2f2f2;">Office</div>
<div class="t" style="left:162.4px;top:634.7px;font-size:6.90px;color:#f2f2f2;transform:translate(-50%,-50%) scaleX(0.889);transform-origin:50% 50%;-webkit-text-stroke:0.2px #f2f2f2;">Clothing</div>
<div class="t" style="left:128.6px;top:641.8px;font-size:6.90px;color:#f2f2f2;transform:translate(-50%,-50%) scaleX(0.850);transform-origin:50% 50%;-webkit-text-stroke:0.2px #f2f2f2;">Supplies</div>
<div class="t" style="left:306.7px;top:563.7px;font-size:9.20px;color:#fff;transform:translate(-50%,-50%) scaleX(0.912);transform-origin:50% 50%;-webkit-text-stroke:0.25px #fff;">Sales Over Time</div>
<div class="t" style="left:220.6px;top:577.8px;font-size:6.60px;color:#f0f0f0;font-weight:bold;transform:translate(-100%,-50%) scaleX(0.900);transform-origin:100% 50%;">40K</div>
<div class="t" style="left:220.6px;top:590.2px;font-size:6.60px;color:#f0f0f0;font-weight:bold;transform:translate(-100%,-50%) scaleX(0.900);transform-origin:100% 50%;">30K</div>
<div class="t" style="left:220.6px;top:602.4px;font-size:6.60px;color:#f0f0f0;font-weight:bold;transform:translate(-100%,-50%) scaleX(0.900);transform-origin:100% 50%;">20K</div>
<div class="t" style="left:220.6px;top:614.6px;font-size:6.60px;color:#f0f0f0;font-weight:bold;transform:translate(-100%,-50%) scaleX(0.900);transform-origin:100% 50%;">10K</div>
<div class="t" style="left:220.6px;top:626.8px;font-size:6.60px;color:#f0f0f0;font-weight:bold;transform:translate(-100%,-50%) scaleX(0.900);transform-origin:100% 50%;">0K</div>
<div class="t" style="left:234.2px;top:634.4px;font-size:6.90px;color:#f2f2f2;font-weight:bold;transform:translate(-50%,-50%) scaleX(0.916);transform-origin:50% 50%;">2023-01</div>
<div class="t" style="left:269.0px;top:634.4px;font-size:6.90px;color:#f2f2f2;font-weight:bold;transform:translate(-50%,-50%) scaleX(0.916);transform-origin:50% 50%;">2023-02</div>
<div class="t" style="left:303.8px;top:634.4px;font-size:6.90px;color:#f2f2f2;font-weight:bold;transform:translate(-50%,-50%) scaleX(0.916);transform-origin:50% 50%;">2023-03</div>
<div class="t" style="left:338.6px;top:634.4px;font-size:6.90px;color:#f2f2f2;font-weight:bold;transform:translate(-50%,-50%) scaleX(0.916);transform-origin:50% 50%;">2023-04</div>
<div class="t" style="left:373.4px;top:634.4px;font-size:6.90px;color:#f2f2f2;font-weight:bold;transform:translate(-50%,-50%) scaleX(0.916);transform-origin:50% 50%;">2023-05</div>
<div class="t" style="left:408.2px;top:634.4px;font-size:6.90px;color:#f2f2f2;font-weight:bold;transform:translate(-50%,-50%) scaleX(0.916);transform-origin:50% 50%;">2023-06</div>
<div class="t" style="left:491.7px;top:518.6px;font-size:7.60px;color:#3d4757;transform:translate(0,-50%) scaleX(0.857);transform-origin:0 50%;">Sales Percentage by Category</div>
<div class="t" style="left:612.4px;top:547.3px;font-size:7.10px;color:#fff;transform:translate(0,-50%) scaleX(0.899);transform-origin:0 50%;-webkit-text-stroke:0.25px #fff;">Electronics</div>
<div class="t" style="left:612.4px;top:554.8px;font-size:6.60px;color:#f0f0f0;transform:translate(0,-50%) scaleX(0.950);transform-origin:0 50%;-webkit-text-stroke:0.15px #f0f0f0;">41.7%</div>
<div class="t" style="left:612.4px;top:567.7px;font-size:7.10px;color:#fff;transform:translate(0,-50%) scaleX(0.898);transform-origin:0 50%;-webkit-text-stroke:0.25px #fff;">Furniture</div>
<div class="t" style="left:612.4px;top:575.2px;font-size:6.60px;color:#f0f0f0;transform:translate(0,-50%) scaleX(0.950);transform-origin:0 50%;-webkit-text-stroke:0.15px #f0f0f0;">25.0%</div>
<div class="t" style="left:612.4px;top:588.1px;font-size:7.10px;color:#fff;transform:translate(0,-50%) scaleX(0.907);transform-origin:0 50%;-webkit-text-stroke:0.25px #fff;">Office Supplies</div>
<div class="t" style="left:612.4px;top:595.6px;font-size:6.60px;color:#f0f0f0;transform:translate(0,-50%) scaleX(0.950);transform-origin:0 50%;-webkit-text-stroke:0.15px #f0f0f0;">16.7%</div>
<div class="t" style="left:612.4px;top:608.5px;font-size:7.10px;color:#fff;transform:translate(0,-50%) scaleX(0.941);transform-origin:0 50%;-webkit-text-stroke:0.25px #fff;">Clothing</div>
<div class="t" style="left:612.4px;top:616.0px;font-size:6.60px;color:#f0f0f0;transform:translate(0,-50%) scaleX(0.950);transform-origin:0 50%;-webkit-text-stroke:0.15px #f0f0f0;">16.6%</div>
</div></body></html>
